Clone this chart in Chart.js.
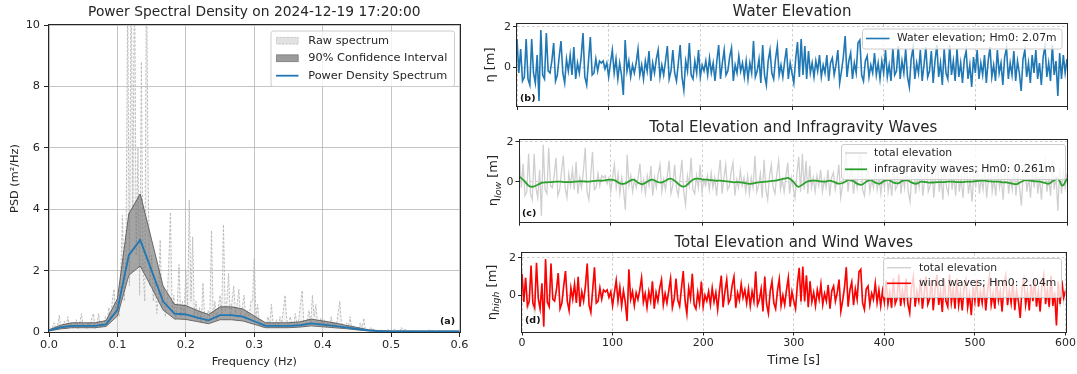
<!DOCTYPE html>
<html><head><meta charset="utf-8">
<script src="https://cdn.jsdelivr.net/npm/chart.js@4.4.1/dist/chart.umd.min.js"></script>
<style>
html,body{margin:0;padding:0;background:#fff;}
body{width:1077px;height:374px;position:relative;overflow:hidden;}
canvas{position:absolute;}
</style></head><body>
<canvas id="cA" width="470" height="374" style="left:0;top:0"></canvas>
<canvas id="cB" width="607" height="118" style="left:470px;top:0"></canvas>
<canvas id="cC" width="607" height="118" style="left:470px;top:115px"></canvas>
<canvas id="cD" width="607" height="144" style="left:470px;top:230px"></canvas>
<script>
// ---------------- data ----------------
const freqTicks = [0, 0.1, 0.2, 0.3, 0.4, 0.5, 0.6];
const psdTicks = [0, 2, 4, 6, 8, 10];
const timeTicks = [0, 100, 200, 300, 400, 500, 600];
const etaTicks = [0, 2];

const rawFreqStep = 0.0025; // Hz
const rawPSD = [
  0.05,0.1,0.15,0.3,0.1,0.2,0.55,0.1,0.2,0.35,
  0.1,0.5,0.15,0.3,0.1,0.25,0.4,0.1,0.3,0.6,
  0.15,0.25,0.1,0.3,0.2,0.45,0.6,0.1,0.25,0.6,
  0.15,0.3,0.2,0.5,0.3,0.8,0.4,1.0,1.4,0.6,
  1.2,0.5,2.0,3.8,1.0,2.5,11,1.5,12,4.0,
  12,2.5,6.0,1.2,8.8,2.0,1.0,12,4.7,1.5,
  2.5,1.0,1.8,0.6,1.2,3.0,0.8,1.5,0.5,1.0,
  2.2,3.9,0.7,1.2,0.4,0.9,2.2,0.5,1.0,0.6,
  2.0,0.8,4.3,1.0,3.1,0.5,1.0,0.4,0.8,0.3,
  1.6,0.5,0.3,0.7,0.4,3.3,0.5,1.0,0.4,0.8,
  1.2,0.6,3.5,0.7,1.0,1.9,0.5,1.0,1.5,0.6,
  0.9,1.4,0.5,0.8,1.2,0.4,0.7,0.5,1.0,1.0,
  2.4,0.5,0.9,0.2,0.4,0.15,0.3,0.2,0.5,0.2,
  0.9,0.3,0.2,0.4,0.15,0.5,0.3,0.7,1.2,0.4,
  0.2,0.5,0.3,0.2,0.6,0.25,0.4,0.9,1.35,0.3,
  0.2,0.4,0.7,0.3,1.2,0.5,0.9,0.3,0.2,0.45,
  0.2,0.4,0.15,0.3,0.2,0.5,0.15,0.3,0.2,0.6,
  1.0,0.3,0.2,0.1,0.3,0.15,0.5,0.1,0.2,0.1,
  0.15,0.05,0.3,0.1,0.45,0.05,0.1,0.05,0.15,0.05,
  0.1,0.03,0.05,0.02,0.08,0.03,0.05,0.02,0.1,0.03,
  0.05,0.02,0.1,0.03,0.05,0.02,0.15,0.03,0.12,0.02,
  0.05,0.02,0.04,0.01,0.03,0.02,0.05,0.01,0.03,0.02,
  0.04,0.01,0.08,0.02,0.06,0.01,0.03,0.02,0.04,0.01,
  0.03,0.02,0.05,0.01,0.03,0.02,0.03,0.01,0.02,0.01,
  0.02
];

const smoothFreqStep = 1 / 60; // Hz
const smoothPSD = [0.05,0.15,0.2,0.2,0.2,0.25,0.72,2.5,3.0,2.0,1.0,0.6,0.57,0.47,0.38,0.55,0.55,0.5,0.35,0.2,0.2,0.2,0.22,0.28,0.24,0.2,0.15,0.1,0.05,0.03,0.02,0.02,0.02,0.02,0.02,0.02,0.02];
const ciUpper = [0.07,0.22,0.3,0.3,0.3,0.37,1.08,3.85,4.5,3.0,1.5,0.9,0.86,0.7,0.57,0.82,0.82,0.75,0.52,0.3,0.3,0.3,0.33,0.42,0.36,0.3,0.22,0.15,0.07,0.045,0.03,0.03,0.03,0.03,0.03,0.03,0.03];
const ciLower = [0.035,0.1,0.14,0.14,0.14,0.18,0.52,1.85,2.15,1.45,0.72,0.43,0.41,0.34,0.27,0.4,0.4,0.36,0.25,0.14,0.14,0.14,0.16,0.2,0.17,0.14,0.11,0.07,0.035,0.02,0.015,0.015,0.015,0.015,0.015,0.015,0.015];

const totalDt = 2; // s
const totalElevation = [
  1.4,-0.3,0.9,-0.7,-0.5,1.4,-0.6,-0.9,1.4,-0.3,-0.8,0.6,-1.7,1.85,-0.4,
  -0.6,1.7,-0.2,-0.3,0.3,1.2,-0.7,-0.4,0.5,1.3,-0.3,-0.8,0.4,-0.2,0.6,
  -0.4,1.0,-0.6,0.2,-0.3,0.5,1.7,-0.5,-0.9,0.3,1.5,-0.4,-0.3,0.4,-0.2,
  0.3,0.2,0.3,-0.1,0.2,-0.5,0.2,0.85,-0.3,0.4,-0.6,0.2,-0.4,-1.4,1.35,
  -0.2,0.3,-0.5,0.1,-0.3,0.2,0.9,-0.4,0.1,-0.6,0.3,-0.2,0.8,-0.7,0.2,
  -0.3,0.4,0.85,-0.5,0.1,-0.4,0.3,1.05,-0.6,-0.2,0.85,-0.3,-0.7,0.2,1.1,
  -0.5,-1.15,0.3,-0.2,1.2,-0.4,-0.6,0.3,-0.3,0.85,-0.5,0.1,-0.2,0.3,-0.4,
  0.45,-0.3,0.2,-0.7,0.3,1.1,-0.6,0.2,0.85,-0.4,-0.2,0.5,0.95,-0.7,0.1,
  -0.3,0.55,-0.2,0.2,-0.5,0.3,-0.6,0.2,-0.3,1.3,-0.5,-0.2,0.4,-0.8,1.1,
  -0.4,-0.9,0.3,0.85,-0.3,-0.6,0.4,1.05,-0.4,0.1,-0.5,0.3,0.95,-0.6,0.2,
  -0.3,-0.8,0.4,1.25,-0.5,1.4,-0.4,1.05,-0.6,0.8,-0.3,0.2,-0.5,0.3,-0.2,
  0.6,-0.5,0.1,-0.3,0.6,-0.7,0.2,0.45,-0.4,0.1,0.85,-0.8,-0.2,0.5,1.55,
  -0.5,0.3,0.7,-0.6,0.2,-0.3,1.2,1.35,-0.4,-0.7,0.3,0.55,-0.5,0.1,-0.3,
  0.7,-0.4,0.2,-0.6,0.3,-0.3,0.85,-0.5,0.1,-0.7,0.95,-0.4,-0.2,1.05,-0.6,
  0.3,-0.3,0.9,-0.5,-1.0,0.4,0.95,-0.6,0.2,-0.3,0.85,-0.7,0.1,1.0,-0.5,
  -0.2,0.8,-0.8,0.3,1.1,-0.5,0.2,-0.9,0.9,-0.3,-0.6,1.1,-0.4,0.3,-0.7,
  0.9,-0.5,0.2,-0.8,0.4,0.8,-0.6,0.1,-1.0,0.5,-0.3,0.85,-0.6,0.2,-0.4,
  0.6,-0.8,0.3,1.0,-0.5,0.1,-0.7,0.85,-0.3,0.2,-0.9,0.5,0.95,-0.6,0.2,
  -0.4,0.8,-0.7,0.3,-0.3,-1.2,0.4,0.85,-0.5,0.2,-0.8,0.6,-0.3,0.85,-0.6,
  0.2,-0.9,0.5,1.05,-0.5,0.2,-0.7,1.1,-0.4,0.3,-1.45,0.7,-0.6,0.6,-0.3,0.4
];
const windWaves = [
  1.15,-0.35,0.95,-0.55,-0.3,1.6,-0.4,-0.65,1.75,-0.15,-0.7,0.65,-1.65,1.95,-0.35,
  -0.6,1.7,-0.2,-0.3,0.3,1.2,-0.7,-0.4,0.5,1.3,-0.3,-0.8,0.4,-0.2,0.6,
  -0.4,1.0,-0.6,0.2,-0.3,0.5,1.7,-0.5,-0.9,0.3,1.5,-0.4,-0.3,0.4,-0.2,
  0.3,0.2,0.3,-0.1,0.2,-0.55,0.15,0.8,-0.3,0.45,-0.55,0.25,-0.35,-1.35,1.4,
  -0.2,0.2,-0.55,0.15,-0.2,0.3,0.95,-0.35,0.1,-0.65,0.2,-0.3,0.75,-0.7,0.15,
  -0.3,0.4,0.85,-0.5,0.1,-0.4,0.25,0.9,-0.65,-0.2,0.9,-0.25,-0.55,0.4,1.3,
  -0.25,-0.95,0.42,-0.15,1.15,-0.5,-0.72,0.15,-0.44,0.73,-0.6,0.0,-0.3,0.2,-0.5,
  0.4,-0.35,0.15,-0.75,0.25,1.05,-0.63,0.2,0.85,-0.4,-0.2,0.55,1.0,-0.65,0.15,
  -0.25,0.62,-0.1,0.3,-0.4,0.35,-0.55,0.22,-0.3,1.28,-0.5,-0.23,0.35,-0.85,1.0,
  -0.45,-0.95,0.22,0.75,-0.4,-0.72,0.25,0.85,-0.55,0.0,-0.5,0.3,0.95,-0.6,0.2,
  -0.3,-0.7,0.62,1.48,-0.32,1.55,-0.3,1.07,-0.62,0.75,-0.35,0.15,-0.55,0.3,-0.2,
  0.6,-0.5,0.1,-0.3,0.55,-0.7,0.25,0.5,-0.3,0.15,0.85,-0.85,-0.28,0.42,1.5,
  -0.6,0.3,0.72,-0.5,0.35,-0.2,1.27,1.4,-0.4,-0.75,0.35,0.5,-0.5,0.12,-0.2,
  0.65,-0.38,0.3,-0.55,0.25,-0.35,0.8,-0.45,0.18,-0.65,0.9,-0.45,-0.15,1.13,-0.55,
  0.25,-0.35,0.9,-0.45,-0.92,0.45,1.0,-0.6,0.22,-0.28,0.9,-0.7,0.1,1.02,-0.47,
  -0.18,0.82,-0.78,0.32,1.1,-0.5,0.22,-0.88,0.9,-0.3,-0.6,1.12,-0.38,0.32,-0.7,
  0.9,-0.52,0.2,-0.8,0.4,0.8,-0.63,0.05,-1.05,0.45,-0.3,0.85,-0.6,0.2,-0.4,
  0.6,-0.8,0.3,1.0,-0.5,0.1,-0.7,0.85,-0.27,0.25,-0.85,0.55,1.05,-0.5,0.3,
  -0.4,0.72,-0.78,0.25,-0.3,-1.2,0.4,0.85,-0.5,0.2,-0.8,0.6,-0.3,0.85,-0.6,
  0.2,-0.85,0.55,1.1,-0.45,0.3,-0.6,1.05,-0.55,0.15,-1.6,0.75,-0.45,0.8,-0.1,0.25
];

const igDt = 5; // s
const infragravityWaves = [
  0.25,0.05,-0.2,-0.25,-0.15,-0.05,-0.03,-0.02,0.0,0.0,
  -0.02,-0.02,0.0,0.02,0.02,0.0,0.03,0.05,0.05,0.08,
  0.1,0.05,-0.08,-0.1,0.02,0.1,-0.05,-0.12,0.0,0.1,
  0.02,-0.05,0.05,0.15,0.05,-0.15,-0.25,-0.1,0.1,0.15,
  0.12,0.1,0.08,0.05,0.05,0.03,0.0,-0.03,-0.02,-0.05,
  -0.1,-0.1,-0.05,-0.02,0.0,0.03,0.05,0.1,0.15,0.18,
  0.0,-0.25,-0.15,0.0,0.05,0.05,0.02,0.0,0.05,-0.02,
  -0.1,-0.05,0.08,0.05,-0.1,-0.15,0.0,0.08,-0.05,-0.1,
  0.05,0.08,-0.05,-0.08,0.05,0.08,-0.05,-0.1,0.0,-0.02,
  -0.05,-0.03,-0.02,-0.02,0.0,0.0,-0.02,-0.02,0.0,0.0,
  0.03,0.05,0.05,0.02,0.0,0.0,-0.03,-0.05,-0.1,-0.12,
  0.0,0.08,0.05,0.02,0.0,-0.05,-0.1,0.05,0.15,-0.2,
  0.15
];

// ---------------- helpers ----------------
const FONT = "'DejaVu Sans', sans-serif";
const INK = '#262626';
Chart.defaults.font.family = FONT;
Chart.defaults.color = INK;

function pts(values, step) {
  return values.map((v, i) => ({ x: Math.round(i * step * 1e6) / 1e6, y: v }));
}

const decoSpecs = {};
const decoPlugin = {
  id: 'deco',
  afterDraw(chart) {
    const s = decoSpecs[chart.canvas.id];
    if (!s) return;
    const ctx = chart.ctx, a = chart.chartArea;
    ctx.save();
    ctx.setLineDash([]);
    // full box (spines)
    ctx.strokeStyle = INK; ctx.lineWidth = 1;
    const L = Math.round(a.left) - 0.5, T = Math.round(a.top) - 0.5;
    const R = Math.round(a.right) + 0.5, B = Math.round(a.bottom) + 0.5;
    ctx.strokeRect(L, T, R - L, B - T);
    // title
    ctx.fillStyle = INK; ctx.textAlign = 'center'; ctx.textBaseline = 'middle';
    ctx.font = s.title.size + 'px ' + FONT;
    ctx.fillText(s.title.text, (a.left + a.right) / 2, s.title.y);
    // rotated y label with optional subscript
    if (s.ylab) {
      const yl = s.ylab;
      ctx.save();
      ctx.translate(yl.x, (a.top + a.bottom) / 2);
      ctx.rotate(-Math.PI / 2);
      const fonts = yl.parts.map(p => p[1] ? ('italic ' + (yl.size * 0.72) + 'px ' + FONT) : (yl.size + 'px ' + FONT));
      let w = 0;
      yl.parts.forEach((p, i) => { ctx.font = fonts[i]; w += ctx.measureText(p[0]).width; });
      let x = -w / 2;
      ctx.textAlign = 'left'; ctx.textBaseline = 'middle';
      yl.parts.forEach((p, i) => {
        ctx.font = fonts[i];
        ctx.fillText(p[0], x, p[1] ? yl.size * 0.32 : 0);
        x += ctx.measureText(p[0]).width;
      });
      ctx.restore();
    }
    // legend
    if (s.legend) {
      const g = s.legend;
      const [x0, y0, x1, y1] = g.box;
      ctx.beginPath();
      if (ctx.roundRect) ctx.roundRect(x0 + 0.5, y0 + 0.5, x1 - x0, y1 - y0, 2.5);
      else ctx.rect(x0 + 0.5, y0 + 0.5, x1 - x0, y1 - y0);
      ctx.fillStyle = 'rgba(255,255,255,0.8)'; ctx.fill();
      ctx.strokeStyle = '#cccccc'; ctx.lineWidth = 1; ctx.stroke();
      ctx.font = g.size + 'px ' + FONT; ctx.textAlign = 'left'; ctx.textBaseline = 'middle';
      g.items.forEach((it, k) => {
        const ds = chart.data.datasets[it.ds];
        const y = g.rows[k];
        if (it.kind === 'line') {
          ctx.strokeStyle = ds.borderColor; ctx.lineWidth = ds.borderWidth; ctx.setLineDash([]);
          ctx.beginPath(); ctx.moveTo(g.sx[0], y); ctx.lineTo(g.sx[1], y); ctx.stroke();
        } else {
          const h = 7.5;
          ctx.fillStyle = it.fill; ctx.fillRect(g.sx[0], y - h / 2, g.sx[1] - g.sx[0], h);
          ctx.strokeStyle = it.edge; ctx.lineWidth = 1; ctx.setLineDash(it.dash || []);
          ctx.strokeRect(g.sx[0] + 0.5, y - h / 2 + 0.5, g.sx[1] - g.sx[0] - 1, h - 1);
          ctx.setLineDash([]);
        }
        ctx.fillStyle = INK;
        ctx.fillText(ds.label, g.tx, y);
      });
    }
    // panel tag
    if (s.tag) {
      ctx.font = 'bold 9.5px ' + FONT; ctx.fillStyle = '#111';
      ctx.textAlign = s.tag.align; ctx.textBaseline = 'middle';
      ctx.fillText(s.tag.text, s.tag.x, s.tag.y);
    }
    ctx.restore();
  }
};

// ---------------- panel (a) ----------------
decoSpecs.cA = {
  title: { text: 'Power Spectral Density on 2024-12-19 17:20:00', y: 12.7, size: 13.8 },
  legend: {
    box: [270.5, 30.5, 454, 86], rows: [40.7, 58.3, 75.7], sx: [276, 298.5], tx: 308.3, size: 11.3,
    items: [
      { ds: 0, kind: 'patch', fill: '#e2e2e2', edge: '#c8c8c8', dash: [2, 1.5] },
      { ds: 1, kind: 'patch', fill: '#9c9c9c', edge: '#8a8a8a' },
      { ds: 3, kind: 'line' }
    ]
  },
  tag: { text: '(a)', x: 447.5, y: 321.7, align: 'center' }
};

const gridA = { color: 'rgba(176,176,176,0.75)', lineWidth: 1, tickLength: 5, tickColor: INK, tickWidth: 1 };

new Chart(document.getElementById('cA'), {
  type: 'line',
  data: {
    datasets: [
      { label: 'Raw spectrum', data: pts(rawPSD, rawFreqStep), borderColor: 'rgba(185,185,185,0.95)', borderWidth: 1,
        borderDash: [2.5, 1.5], backgroundColor: 'rgba(220,220,220,0.3)', fill: 'origin', pointRadius: 0, tension: 0, order: 3 },
      { label: '90% Confidence Interval', data: pts(ciUpper, smoothFreqStep), borderColor: 'rgba(90,90,90,0.9)', borderWidth: 1,
        backgroundColor: 'rgba(110,110,110,0.6)', fill: '+1', pointRadius: 0, tension: 0, order: 2 },
      { label: '', data: pts(ciLower, smoothFreqStep), borderColor: 'rgba(90,90,90,0.9)', borderWidth: 1,
        fill: false, pointRadius: 0, tension: 0, order: 2 },
      { label: 'Power Density Spectrum', data: pts(smoothPSD, smoothFreqStep), borderColor: '#1f77b4', borderWidth: 1.8,
        fill: false, pointRadius: 0, tension: 0, order: 1 }
    ]
  },
  options: {
    responsive: false, animation: false, events: [],
    layout: { padding: { top: 25, right: 10, left: 0, bottom: 0 } },
    plugins: { legend: { display: false }, tooltip: { enabled: false }, title: { display: false } },
    scales: {
      x: {
        type: 'linear', min: 0, max: 0.6,
        afterFit: s => { s.height = 42; },
        afterBuildTicks: s => { s.ticks = freqTicks.map(v => ({ value: v })); },
        ticks: { callback: v => Number(v).toFixed(1), font: { size: 11.3 }, padding: 1.5, maxRotation: 0, autoSkip: false },
        grid: gridA, border: { display: false },
        title: { display: true, text: 'Frequency (Hz)', font: { size: 11.3 }, padding: { top: 0, bottom: 5.2 } }
      },
      y: {
        min: 0, max: 10,
        afterFit: s => { s.width = 49; },
        afterBuildTicks: s => { s.ticks = psdTicks.map(v => ({ value: v })); },
        ticks: { callback: v => String(v), font: { size: 11.3 }, padding: 4 },
        grid: gridA, border: { display: false },
        title: { display: true, text: 'PSD (m²/Hz)', font: { size: 11.3 }, padding: { top: 8, bottom: 0 } }
      }
    }
  },
  plugins: [decoPlugin]
});

// ---------------- panels (b)-(d) ----------------
function timePanel(id, datasets, o) {
  const grid = { color: 'rgba(176,176,176,0.8)', lineWidth: 0.8, tickLength: 4, tickColor: INK, tickWidth: 1, borderDash: [2.5, 2.5] };
  return new Chart(document.getElementById(id), {
    type: 'line',
    data: { datasets },
    options: {
      responsive: false, animation: false, events: [],
      layout: { padding: { top: o.padTop, right: 10, left: 0, bottom: 0 } },
      plugins: { legend: { display: false }, tooltip: { enabled: false }, title: { display: false } },
      scales: {
        x: {
          type: 'linear', min: 0, max: 600,
          afterFit: s => { s.height = o.xH; },
          afterBuildTicks: s => { s.ticks = timeTicks.map(v => ({ value: v })); },
          ticks: { display: o.xLabels, callback: v => String(v), font: { size: 11 }, padding: 1, maxRotation: 0, autoSkip: false },
          grid, border: { display: false, dash: [2.5, 2.5] },
          title: { display: !!o.xTitle, text: o.xTitle || '', font: { size: 13 }, padding: { top: 0, bottom: 5.5 } }
        },
        y: {
          min: o.yMin, max: o.yMax,
          afterFit: s => { s.width = o.yW; },
          afterBuildTicks: s => { s.ticks = etaTicks.map(v => ({ value: v })); },
          ticks: { callback: v => String(v), font: { size: 11 }, padding: 2 },
          grid, border: { display: false, dash: [2.5, 2.5] }
        }
      }
    },
    plugins: [decoPlugin]
  });
}

decoSpecs.cB = {
  title: { text: 'Water Elevation', y: 12.5, size: 15 },
  ylab: { parts: [['η', 0], [' [m]', 0]], x: 20.7, size: 13 },
  legend: { box: [392, 28.5, 591.5, 48.5], rows: [38.5], sx: [396, 419.5], tx: 427, size: 10.8, items: [{ ds: 0, kind: 'line' }] },
  tag: { text: '(b)', x: 50, y: 99, align: 'left' }
};
timePanel('cB', [
  { label: 'Water elevation; Hm0: 2.07m', data: pts(totalElevation, totalDt), borderColor: '#1f77b4', borderWidth: 1.6,
    fill: false, pointRadius: 0, tension: 0 }
], { padTop: 24, xH: 12, yW: 47, yMin: -1.95, yMax: 2.15, xLabels: false });

decoSpecs.cC = {
  title: { text: 'Total Elevation and Infragravity Waves', y: 13.3, size: 15 },
  ylab: { parts: [['η', 0], ['low', 1], [' [m]', 0]], x: 24, size: 13 },
  legend: { box: [371, 29, 595, 64], rows: [38, 54.3], sx: [375, 397], tx: 404, size: 10.8,
    items: [{ ds: 1, kind: 'line' }, { ds: 0, kind: 'line' }] },
  tag: { text: '(c)', x: 52, y: 99, align: 'left' }
};
timePanel('cC', [
  { label: 'infragravity waves; Hm0: 0.261m', data: pts(infragravityWaves, igDt), borderColor: '#2ca02c', borderWidth: 1.8,
    fill: false, pointRadius: 0, tension: 0.4, order: 1 },
  { label: 'total elevation', data: pts(totalElevation, totalDt), borderColor: '#cfcfcf', borderWidth: 1.3,
    fill: false, pointRadius: 0, tension: 0, order: 2 }
], { padTop: 24.5, xH: 11.3, yW: 49.5, yMin: -2.0, yMax: 2.11, xLabels: false });

decoSpecs.cD = {
  title: { text: 'Total Elevation and Wind Waves', y: 12.7, size: 15 },
  ylab: { parts: [['η', 0], ['high', 1], [' [m]', 0]], x: 22.5, size: 13 },
  legend: { box: [413, 28, 591, 67], rows: [37.7, 53.3], sx: [417, 441], tx: 449, size: 10.8,
    items: [{ ds: 1, kind: 'line' }, { ds: 0, kind: 'line' }] },
  tag: { text: '(d)', x: 55, y: 90.7, align: 'left' }
};
timePanel('cD', [
  { label: 'wind waves; Hm0: 2.04m', data: pts(windWaves, totalDt), borderColor: '#ff0000', borderWidth: 1.6,
    fill: false, pointRadius: 0, tension: 0, order: 1 },
  { label: 'total elevation', data: pts(totalElevation, totalDt), borderColor: '#cfcfcf', borderWidth: 1.3,
    fill: false, pointRadius: 0, tension: 0, order: 2 }
], { padTop: 23.3, xH: 42.5, yW: 52, yMin: -1.92, yMax: 2.25, xLabels: true, xTitle: 'Time [s]' });
</script>
</body></html>
